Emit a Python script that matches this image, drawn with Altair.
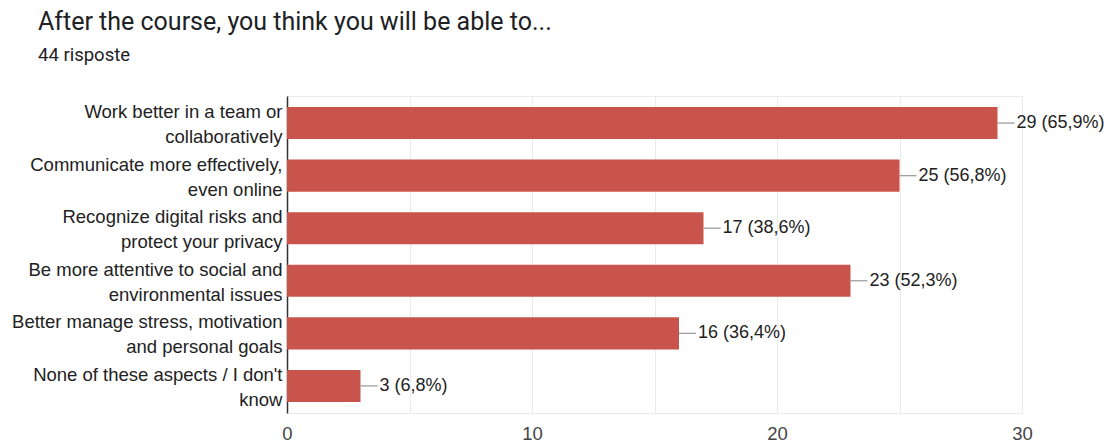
import altair as alt
import pandas as pd

categories = [
    "Work better in a team or|collaboratively",
    "Communicate more effectively,|even online",
    "Recognize digital risks and|protect your privacy",
    "Be more attentive to social and|environmental issues",
    "Better manage stress, motivation|and personal goals",
    "None of these aspects / I don't|know",
]
counts = [29, 25, 17, 23, 16, 3]
bar_labels = ["29 (65,9%)", "25 (56,8%)", "17 (38,6%)", "23 (52,3%)", "16 (36,4%)", "3 (6,8%)"]
x_ticks = [0, 5, 10, 15, 20, 25, 30]

df = pd.DataFrame({"cat": categories, "n": counts, "lab": bar_labels})

FONT = "Liberation Sans"

y = alt.Y(
    "cat:N", sort=None, title=None,
    scale=alt.Scale(paddingInner=0.39, paddingOuter=0.21),
    axis=alt.Axis(
        labelExpr="split(datum.label, '|')",
        labelFont=FONT, labelFontSize=18.5, labelColor="#222222",
        labelLineHeight=25, labelPadding=5, labelOffset=-11, ticks=False,
        domainColor="#333333", domainWidth=1.5, labelLimit=320,
        labelAlign="right", labelBaseline="middle", grid=False,
    ),
)
x = alt.X(
    "n:Q", title=None,
    scale=alt.Scale(domain=[0, 30], nice=False),
    axis=alt.Axis(
        values=x_ticks,
        labelExpr="datum.value % 10 === 0 ? datum.label : ''",
        grid=True, gridColor="#ebebeb", gridWidth=1,
        domain=False, ticks=False, labelFlush=False,
        labelFont=FONT, labelFontSize=18.5, labelColor="#444444", labelPadding=11,
    ),
)

base = alt.Chart(df)
bars = base.mark_bar(color="#c9544b").encode(x=x, y=y)
leaders = base.mark_rule(color="#9e9e9e", strokeWidth=1.3, x2Offset=17).encode(
    x="n:Q", x2="n:Q", y=alt.Y("cat:N", sort=None)
)
texts = base.mark_text(
    align="left", baseline="middle", dx=19, font=FONT, fontSize=18, color="#222222"
).encode(x="n:Q", y=alt.Y("cat:N", sort=None), text="lab:N")

chart = (
    alt.layer(bars, leaders, texts)
    .properties(
        width=735, height=317,
        autosize=alt.AutoSizeParams(type="none"),
        padding={"left": 287, "top": 96, "right": 94, "bottom": 30},
        background="white",
        title=alt.TitleParams(
            "After the course, you think you will be able to...",
            subtitle="44 risposte",
            anchor="start", frame="group", dx=-249, offset=32,
            font="Roboto", fontSize=25, fontWeight="normal", color="#202124",
            subtitleFont="Roboto", subtitleFontSize=18.5, subtitleColor="#202124",
            subtitlePadding=11,
        ),
    )
    .configure_view(stroke="#ebebeb")
)

chart.save("out.html", embed_options={"renderer": "svg", "actions": False})
